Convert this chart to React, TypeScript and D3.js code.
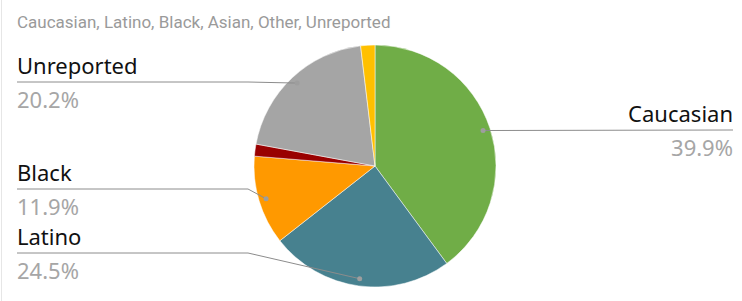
import * as d3 from "d3";

const width = 742;
const height = 301;

const subtitle = "Caucasian, Latino, Black, Asian, Other, Unreported";
const categories = ["Caucasian", "Latino", "Black", "Asian", "Unreported", "Other"];
const shares = [39.9, 24.5, 11.9, 1.6, 20.2, 1.9];
const colors = ["#70ad47", "#47818f", "#ff9900", "#990000", "#a5a5a5", "#ffc000"];
const labelled = ["Caucasian", "Latino", "Black", "Unreported"];

// where the leader lines land (label row y), left or right side
const labelRows: Record<string, { y: number; side: "left" | "right" }> = {
  Caucasian: { y: 130, side: "right" },
  Latino: { y: 253, side: "left" },
  Black: { y: 189, side: "left" },
  Unreported: { y: 82, side: "left" },
};

const cx = 375;
const cy = 166;
const radius = 121;
const leftX = 17;
const rightX = 733;
const font = "'Noto Sans', sans-serif";

const App = () => {
  const data = categories.map((c, i) => ({ name: c, value: shares[i], color: colors[i] }));
  const pie = d3.pie<{ name: string; value: number; color: string }>()
    .sort(null)
    .value((d) => d.value);
  const arcs = pie(data);
  const arc = d3.arc<d3.PieArcDatum<any>>().innerRadius(0).outerRadius(radius);
  const dotArc = d3.arc<d3.PieArcDatum<any>>().innerRadius(radius * 0.94).outerRadius(radius * 0.94);

  return (
    <svg width={width} height={height} style={{ position: "absolute", left: 0, top: 0 }}>
      <rect x={0} y={0} width={width} height={height} fill="#fff" />
      <line x1={1.5} y1={0} x2={1.5} y2={height} stroke="#e6e6e6" />
      <text x={leftX} y={28} fontFamily="Roboto, sans-serif" fontSize={17} fill="#9a9a9a">
        {subtitle}
      </text>
      <g transform={`translate(${cx},${cy})`}>
        {arcs.map((a, i) => (
          <path key={i} d={arc(a) || ""} fill={a.data.color} stroke="#fff" strokeWidth={0.5} />
        ))}
      </g>
      {arcs
        .filter((a) => labelled.includes(a.data.name))
        .map((a, i) => {
          const [dx, dy] = dotArc.centroid(a);
          const px = cx + dx;
          const py = cy + dy;
          const row = labelRows[a.data.name];
          const right = row.side === "right";
          const endX = right ? rightX : leftX;
          const bendX = right ? px + 1 : Math.max(px - 18, leftX);
          const pts: [number, number][] = right
            ? [[px, py], [endX, row.y]]
            : py === row.y
            ? [[endX, row.y], [px, py]]
            : [[endX, row.y], [Math.min(bendX, 248), row.y], [px, py]];
          return (
            <g key={i}>
              <path d={d3.line()(pts) || ""} fill="none" stroke="#8c8c8c" strokeWidth={1} />
              <circle cx={px} cy={py} r={2.5} fill="#9e9e9e" />
              <text x={endX} y={row.y - 8} textAnchor={right ? "end" : "start"} fontFamily={font} fontSize={22} fill="#111">
                {a.data.name}
              </text>
              <text x={endX} y={row.y + 26} textAnchor={right ? "end" : "start"} fontFamily={font} fontSize={22} fill="#a6a6a6">
                {a.data.value.toFixed(1)}%
              </text>
            </g>
          );
        })}
    </svg>
  );
};

export default App;
